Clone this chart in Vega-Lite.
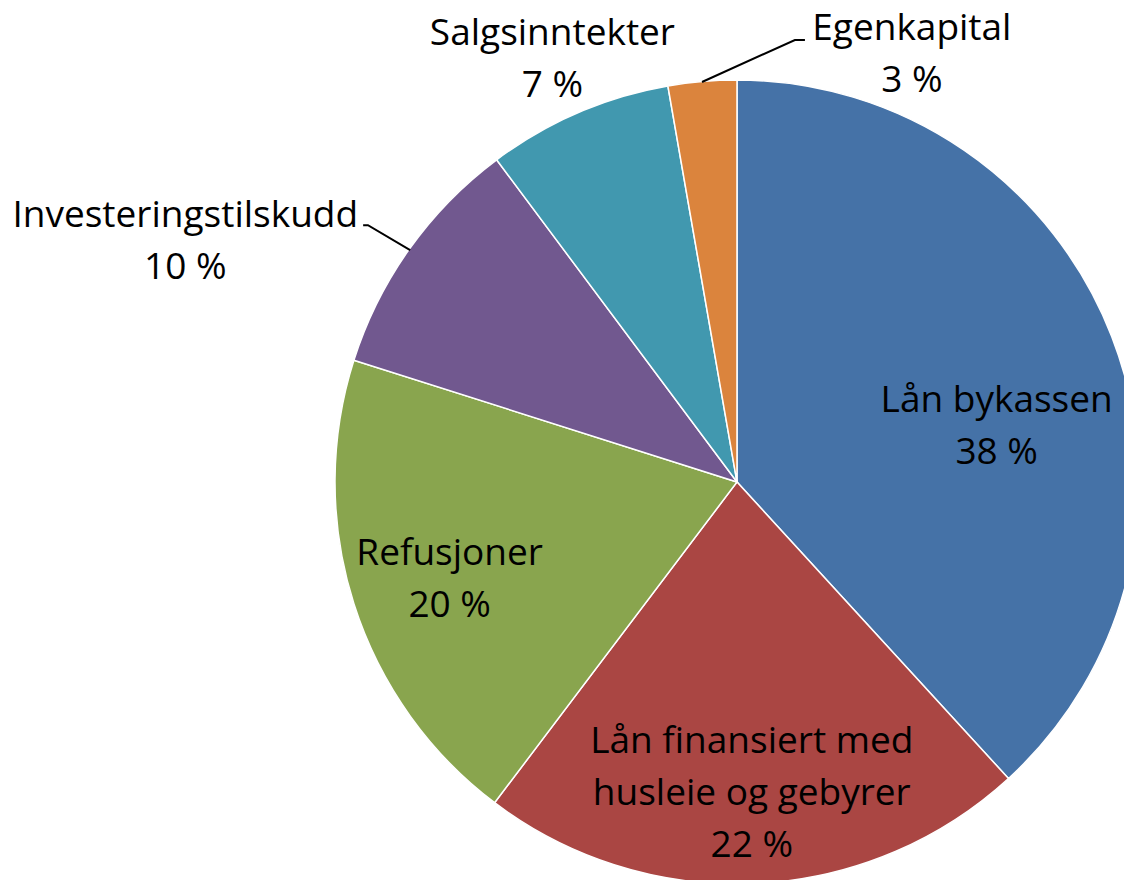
{
  "$schema": "https://vega.github.io/schema/vega-lite/v6.json",
  "width": 1124,
  "height": 880,
  "autosize": "none",
  "padding": 0,
  "background": "white",
  "view": {"stroke": null},
  "config": {"text": {"font": "Open Sans", "fontSize": 37, "lineHeight": 52, "color": "#000000"}},
  "datasets": {
    "slices": [
      {"cat": "Lån bykassen", "value": 38.2, "order": 1, "label": "Lån bykassen\n38 %"},
      {"cat": "Lån finansiert med husleie og gebyrer", "value": 22.1, "order": 2, "label": "Lån finansiert med\nhusleie og gebyrer\n22 %"},
      {"cat": "Refusjoner", "value": 19.6, "order": 3, "label": "Refusjoner\n20 %"},
      {"cat": "Investeringstilskudd", "value": 9.9, "order": 4, "label": "Investeringstilskudd\n10 %"},
      {"cat": "Salgsinntekter", "value": 7.45, "order": 5, "label": "Salgsinntekter\n7 %"},
      {"cat": "Egenkapital", "value": 2.75, "order": 6, "label": "Egenkapital\n3 %"}
    ],
    "leaders": [
      {"g": "Egenkapital", "i": 1, "px": -0.087, "py": 0.995},
      {"g": "Egenkapital", "i": 2, "px": 0.144, "py": 1.0995},
      {"g": "Egenkapital", "i": 3, "px": 0.169, "py": 1.0995},
      {"g": "Investeringstilskudd", "i": 1, "px": -0.813, "py": 0.577},
      {"g": "Investeringstilskudd", "i": 2, "px": -0.918, "py": 0.639},
      {"g": "Investeringstilskudd", "i": 3, "px": -0.93, "py": 0.639}
    ]
  },
  "data": {"name": "slices"},
  "layer": [
    {
      "mark": {"type": "arc", "outerRadius": 402, "stroke": "#ffffff", "strokeWidth": 1.5},
      "encoding": {
        "x": {"datum": 0, "type": "quantitative", "scale": {"domain": [-1.8333, 0.9627], "nice": false, "zero": false}, "axis": null},
        "y": {"datum": 0, "type": "quantitative", "scale": {"domain": [-0.99, 1.199], "nice": false, "zero": false}, "axis": null},
        "theta": {"field": "value", "type": "quantitative", "stack": true},
        "order": {"field": "order", "type": "quantitative", "sort": "ascending"},
        "color": {
          "field": "cat", "type": "nominal", "legend": null,
          "scale": {
            "domain": ["Lån bykassen", "Lån finansiert med husleie og gebyrer", "Refusjoner", "Investeringstilskudd", "Salgsinntekter", "Egenkapital"],
            "range": ["#4572A7", "#AA4643", "#89A54E", "#71588F", "#4198AF", "#DB843D"]
          }
        }
      }
    },
    {
      "data": {"name": "leaders"},
      "mark": {"type": "line", "color": "#000000", "strokeWidth": 2},
      "encoding": {
        "x": {"field": "px", "type": "quantitative", "scale": {"domain": [-1.8333, 0.9627], "nice": false, "zero": false}, "axis": null},
        "y": {"field": "py", "type": "quantitative", "scale": {"domain": [-0.99, 1.199], "nice": false, "zero": false}, "axis": null},
        "detail": {"field": "g", "type": "nominal"},
        "order": {"field": "i", "type": "quantitative"}
      }
    },
    {
      "mark": {"type": "text", "radius": 270, "dx": 8, "dy": 28, "align": "center", "baseline": "alphabetic", "lineBreak": "\n"},
      "encoding": {
        "x": {"datum": 0, "type": "quantitative"},
        "y": {"datum": 0, "type": "quantitative"},
        "theta": {"field": "value", "type": "quantitative", "stack": true},
        "order": {"field": "order", "type": "quantitative", "sort": "ascending"},
        "text": {"condition": {"test": "datum.cat === 'Lån bykassen'", "field": "label"}, "value": ""}
      }
    },
    {
      "mark": {"type": "text", "radius": 271, "dx": 2, "dy": 0, "align": "center", "baseline": "alphabetic", "lineBreak": "\n"},
      "encoding": {
        "x": {"datum": 0, "type": "quantitative"},
        "y": {"datum": 0, "type": "quantitative"},
        "theta": {"field": "value", "type": "quantitative", "stack": true},
        "order": {"field": "order", "type": "quantitative", "sort": "ascending"},
        "text": {"condition": {"test": "datum.cat === 'Lån finansiert med husleie og gebyrer'", "field": "label"}, "value": ""}
      }
    },
    {
      "mark": {"type": "text", "radius": 290, "dx": -11, "dy": -5, "align": "center", "baseline": "alphabetic", "lineBreak": "\n"},
      "encoding": {
        "x": {"datum": 0, "type": "quantitative"},
        "y": {"datum": 0, "type": "quantitative"},
        "theta": {"field": "value", "type": "quantitative", "stack": true},
        "order": {"field": "order", "type": "quantitative", "sort": "ascending"},
        "text": {"condition": {"test": "datum.cat === 'Refusjoner'", "field": "label"}, "value": ""}
      }
    },
    {
      "mark": {"type": "text", "radius": 600, "dx": -63, "dy": 93, "align": "center", "baseline": "alphabetic", "lineBreak": "\n"},
      "encoding": {
        "x": {"datum": 0, "type": "quantitative"},
        "y": {"datum": 0, "type": "quantitative"},
        "theta": {"field": "value", "type": "quantitative", "stack": true},
        "order": {"field": "order", "type": "quantitative", "sort": "ascending"},
        "text": {"condition": {"test": "datum.cat === 'Investeringstilskudd'", "field": "label"}, "value": ""}
      }
    },
    {
      "mark": {"type": "text", "radius": 474, "dx": 3, "dy": -2, "align": "center", "baseline": "alphabetic", "lineBreak": "\n"},
      "encoding": {
        "x": {"datum": 0, "type": "quantitative"},
        "y": {"datum": 0, "type": "quantitative"},
        "theta": {"field": "value", "type": "quantitative", "stack": true},
        "order": {"field": "order", "type": "quantitative", "sort": "ascending"},
        "text": {"condition": {"test": "datum.cat === 'Salgsinntekter'", "field": "label"}, "value": ""}
      }
    },
    {
      "mark": {"type": "text", "radius": 442, "dx": 213, "dy": -2, "align": "center", "baseline": "alphabetic", "lineBreak": "\n"},
      "encoding": {
        "x": {"datum": 0, "type": "quantitative"},
        "y": {"datum": 0, "type": "quantitative"},
        "theta": {"field": "value", "type": "quantitative", "stack": true},
        "order": {"field": "order", "type": "quantitative", "sort": "ascending"},
        "text": {"condition": {"test": "datum.cat === 'Egenkapital'", "field": "label"}, "value": ""}
      }
    }
  ]
}
